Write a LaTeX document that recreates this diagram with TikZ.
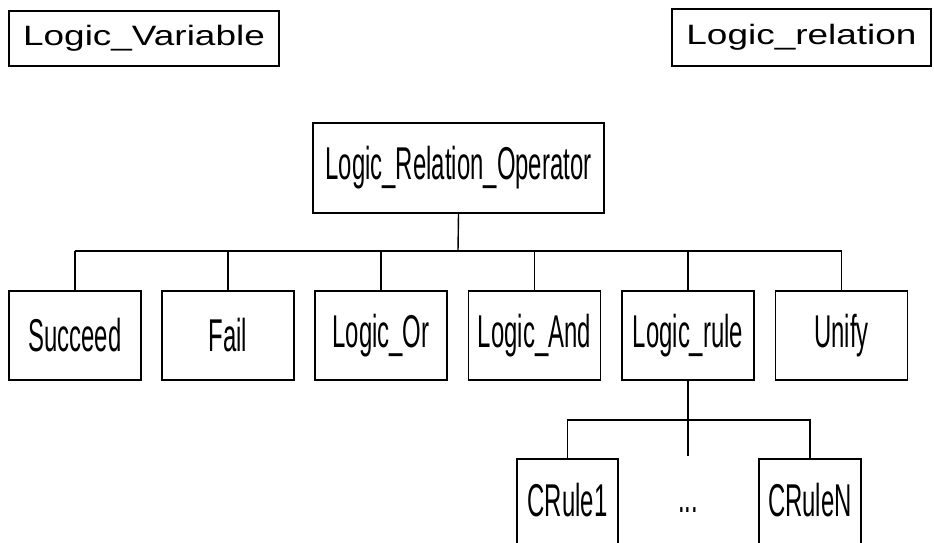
\documentclass[tikz,border=0pt]{standalone}
\usepackage{fontspec}
\setmainfont{Liberation Sans}
\usepackage{graphicx}
\newcommand{\toplbl}[1]{\fontsize{28}{28}\selectfont\scalebox{1.32}[1]{#1}}
\newcommand{\innerlbl}[1]{\fontsize{46}{46}\selectfont\scalebox{0.52}[1]{#1}}
\tikzset{
  box/.style={draw, line width=1.4pt, rectangle, inner sep=0pt, anchor=center},
  topbox/.style={box, font=\toplbl},
  kid/.style={box, minimum width=132pt, minimum height=89pt},
  conn/.style={line width=1.4pt}
}
\begin{document}
\begin{tikzpicture}[x=1pt,y=-1pt]
\useasboundingbox (0,0) rectangle (934,542);
\clip (0,0) rectangle (934,542);
\node[box, minimum width=270pt, minimum height=55pt] (lv) at (144,38.5) {\toplbl{Logic\_Variable}};
\node[box, minimum width=259pt, minimum height=57pt] (lr) at (801.5,37.5) {\toplbl{Logic\_relation}};
\node[box, minimum width=291pt, minimum height=90pt] (lro) at (458.5,168) {\innerlbl{Logic\_Relation\_Operator}};
\node[kid] (succ) at (75,335.5) {\innerlbl{Succeed}};
\node[kid] (fail) at (228,335.5) {\innerlbl{Fail}};
\node[kid] (lor) at (381,335.5) {\innerlbl{Logic\_Or}};
\node[kid] (land) at (534.5,335.5) {\innerlbl{Logic\_And}};
\node[kid] (lrule) at (688,335.5) {\innerlbl{Logic\_rule}};
\node[kid] (unify) at (841.5,335.5) {\innerlbl{Unify}};
\node[box, minimum width=101pt, minimum height=110pt] (cr1) at (567.5,514) {};
\node[box, minimum width=102pt, minimum height=110pt] (crn) at (810,514) {};
\node at (567.5,500) {\innerlbl{CRule1}};
\node at (810,500) {\innerlbl{CRuleN}};
\node (dots) at (688,510) {\innerlbl{...}};
\coordinate (bus) at (458,251);
\coordinate (bus2) at (688,420);
\coordinate (mid) at (688,456);
\draw[conn] (lro.south) -- (bus);
\foreach \k in {succ,fail,lor,land,lrule,unify}
  \draw[conn] (\k.north) -- (\k.north |- bus);
\draw[conn] (succ.north |- bus) -- (unify.north |- bus);
\draw[conn] (lrule.south) -- (mid);
\draw[conn] (cr1.north) -- (cr1.north |- bus2) -- (crn.north |- bus2) -- (crn.north);
\end{tikzpicture}
\end{document}
